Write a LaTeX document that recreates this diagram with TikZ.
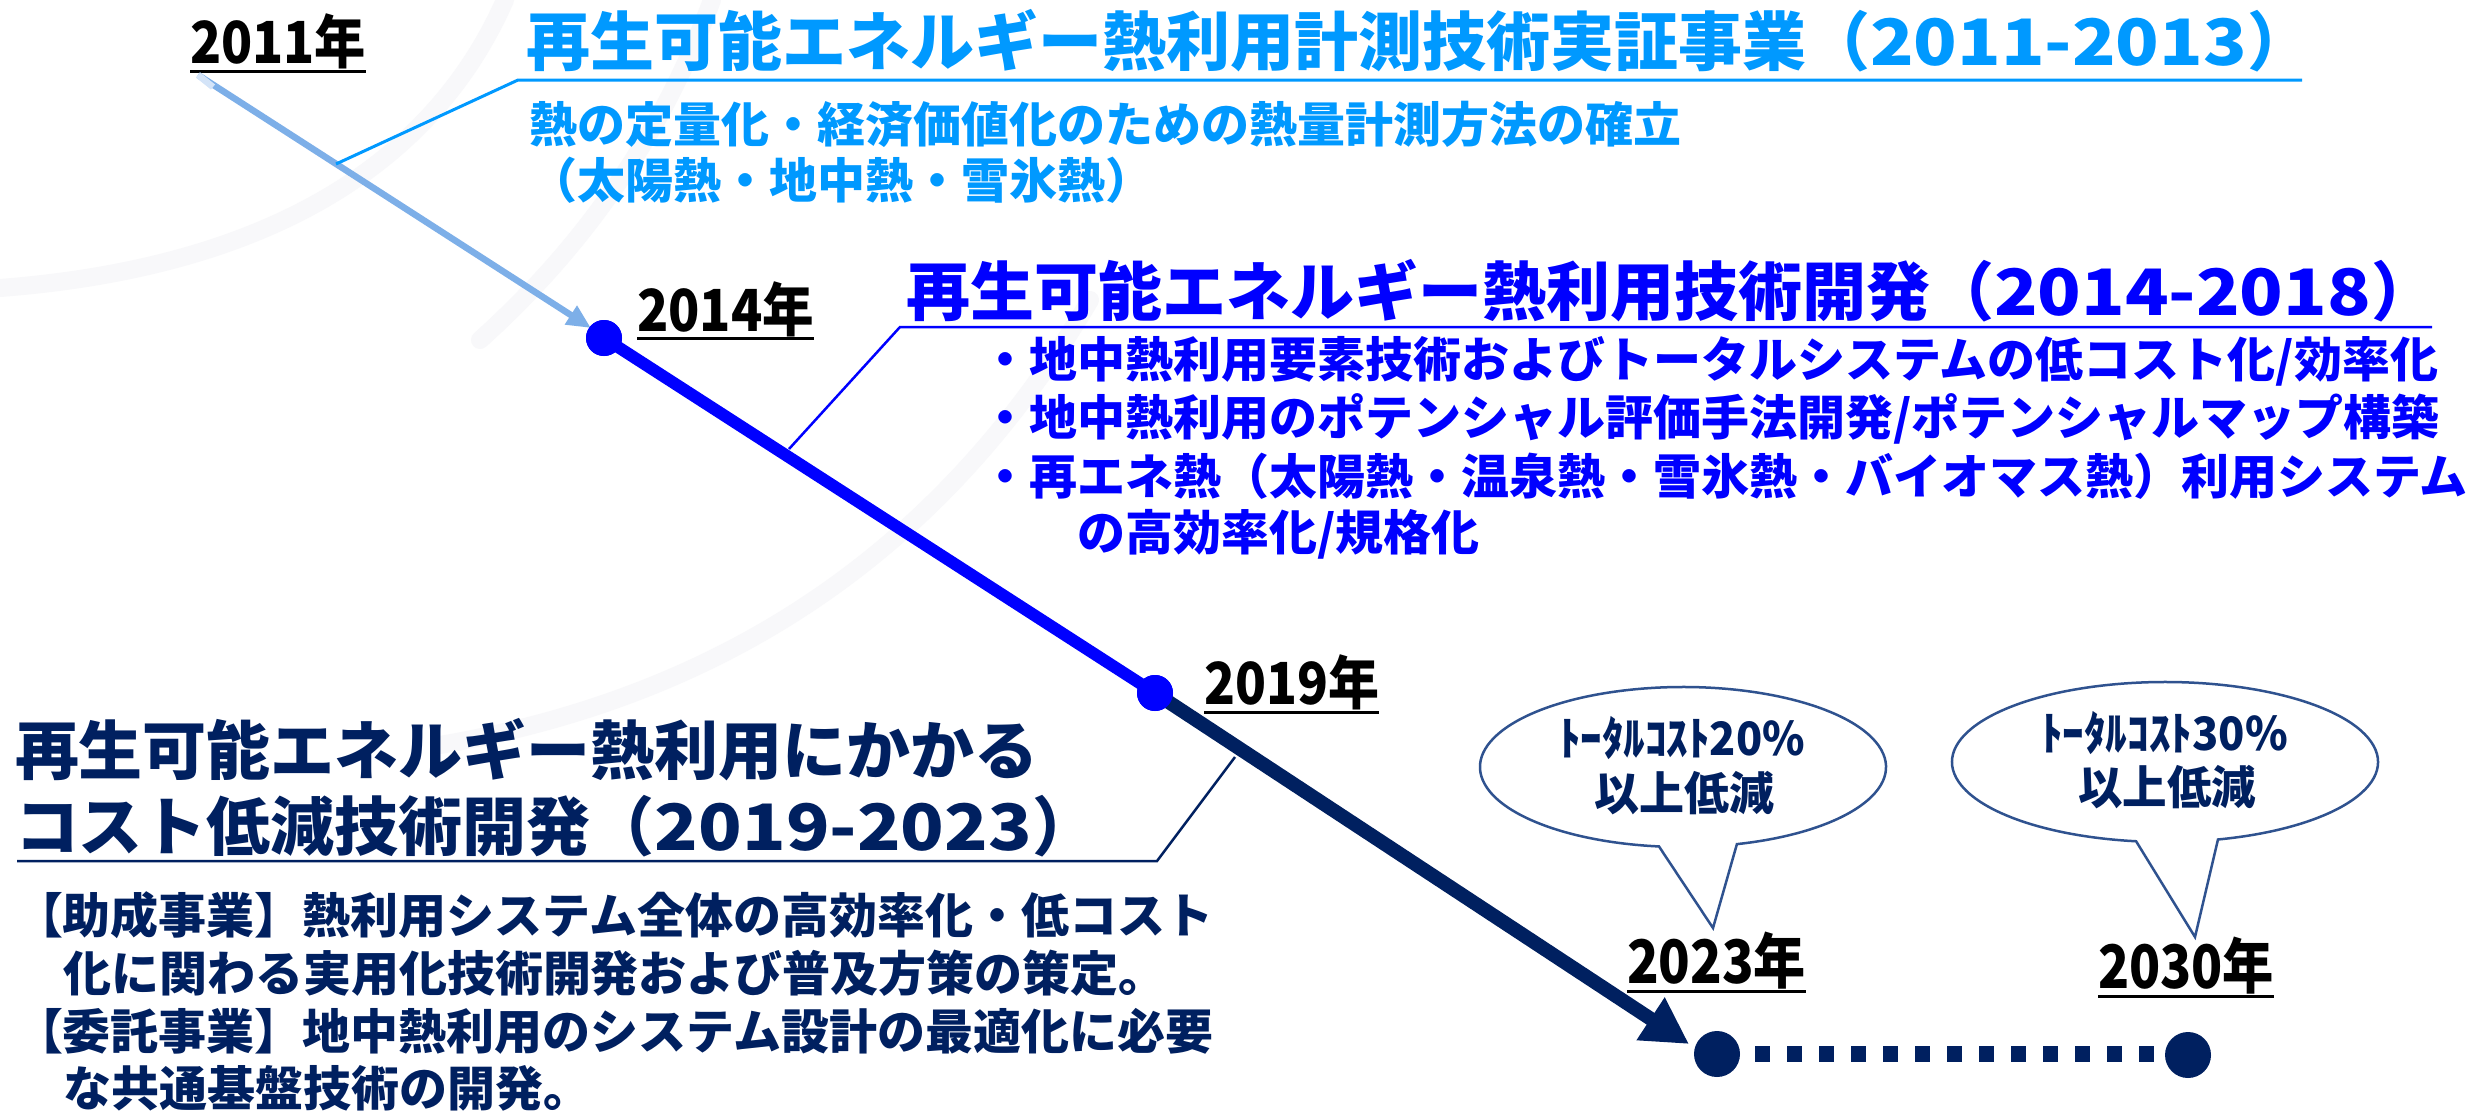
\documentclass[tikz,border=0pt]{standalone}
\usepackage{fontspec}
\usepackage{graphicx}
\setmainfont{Noto Sans CJK JP}
\usetikzlibrary{arrows.meta}
\definecolor{sky}{RGB}{0,153,255}
\definecolor{lightarrow}{RGB}{125,175,232}
\definecolor{lightarrowfade}{RGB}{212,228,248}
\definecolor{pureblue}{RGB}{0,0,255}
\definecolor{navy}{RGB}{0,32,96}
\definecolor{calloutline}{RGB}{47,82,143}
\definecolor{bgarccol}{RGB}{248,248,250}
\newcommand\myfs[1]{\fontsize{#1pt}{#1pt}\selectfont}
\begin{document}
\begin{tikzpicture}[x=1pt,y=-1pt,
  txt/.style={inner sep=0pt, outer sep=0pt, anchor=west},
  yearlbl/.style={txt, text=black, font=\myfs{58}\bfseries},
  uline/.style={black, line width=3pt},
  dot/.style={circle, inner sep=0pt, minimum size=36pt},
  bigdot/.style={circle, inner sep=0pt, minimum size=46pt, fill=navy},
  bgarc/.style={bgarccol, line width=18pt, line cap=round},
  callout/.style={draw=calloutline, line width=2.5pt, fill=white},
  calltxt/.style={inner sep=0pt, text=navy, font=\myfs{46}\bfseries}
]
\useasboundingbox[fill=white] (0,0) rectangle (2474,1111);

% faint background arcs
\draw[bgarc] (505,0) .. controls (430,170) and (260,268) .. (0,288);
\draw[bgarc] (712,0) .. controls (660,140) and (580,250) .. (480,340);
\draw[bgarc] (1090,300) .. controls (960,520) and (760,690) .. (440,745);

% ---- year labels
\node[yearlbl] (y2011) at (190,41.5) {\resizebox{176pt}{\height}{2011年}};
\node[yearlbl] (y2014) at (637,309) {\resizebox{177pt}{\height}{2014年}};
\node[yearlbl] (y2019) at (1204,682.5) {\resizebox{175pt}{\height}{2019年}};
\node[yearlbl, font=\myfs{60}\bfseries] (y2023) at (1627,960.5) {\resizebox{179pt}{\height}{2023年}};
\node[yearlbl, font=\myfs{60}\bfseries] (y2030) at (2098,965.5) {\resizebox{176pt}{\height}{2030年}};
\foreach \n in {y2011,y2014,y2019,y2023,y2030}
  \draw[uline] ([yshift=-2pt]\n.south west) -- ([yshift=-2pt]\n.south east);

% ---- timeline dots and coordinates
\coordinate (a11s) at (198,75);
\coordinate (a11f) at (213,87);
\coordinate (a11t) at (591,328);
\node[dot, fill=pureblue] (d2014) at (604,338) {};
\node[dot, fill=pureblue] (d2019) at (1155,693) {};
\coordinate (a23) at (1689,1044);
\coordinate (dl1) at (1755,1054);
\coordinate (dl2) at (2154,1054);

% 2011 -> 2014 light arrow
\draw[lightarrow, line width=6.5pt, -{Triangle[length=24pt 0 0, width=21pt 0 0]}] (a11s) -- (a11t);
\draw[lightarrowfade, line width=6.5pt] (a11s) -- (a11f);

% 2014 -> 2019 blue line
\draw[pureblue, line width=12pt] (d2014.center) -- (d2019.center);
% 2019 -> 2023 navy arrow
\draw[navy, line width=14pt, -{Triangle[length=46pt 0 0, width=48pt 0 0]}] (d2019.center) -- (a23);
\node[dot, fill=pureblue] at (d2014) {};
\node[dot, fill=pureblue] at (d2019) {};

% 2023 .. 2030
\draw[navy, line width=16pt, dash pattern=on 15pt off 17pt] (dl1) -- (dl2);
\node[bigdot] (d2023) at (1717,1054) {};
\node[bigdot] (d2030) at (2188,1055) {};

% ---- block 1 (2011-2013)
\node[txt, font=\myfs{64}\bfseries, text=sky] (t1) at (526,40.5)
  {再生可能エネルギー熱利用計測技術実証事業（\resizebox{377pt}{\height}{2011-2013}）};
\node[txt, font=\myfs{48}\bfseries, text=sky] (s1a) at (529,124)
  {熱の定量化・経済価値化のための熱量計測方法の確立};
\node[txt, font=\myfs{48}\bfseries, text=sky] (s1b) at (529,180.5)
  {（太陽熱・地中熱・雪氷熱）};
\coordinate (t1ul) at (518,80);
\coordinate (t1ur) at (2302,80);
\coordinate (t1c) at (336,164);
\draw[sky, line width=3pt] (t1ur) -- (t1ul) -- (t1c);

% ---- block 2 (2014-2018)
\node[txt, font=\myfs{64}\bfseries, text=pureblue] (t2) at (906,290.5)
  {再生可能エネルギー熱利用技術開発（\resizebox{377pt}{\height}{2014-2018}）};
\node[txt, font=\myfs{48}\bfseries, text=pureblue] (b2a) at (981,361)
  {・地中熱利用要素技術およびトータルシステムの低コスト化/効率化};
\node[txt, font=\myfs{48}\bfseries, text=pureblue] (b2b) at (981,418.5)
  {・地中熱利用のポテンシャル評価手法開発/ポテンシャルマップ構築};
\node[txt, font=\myfs{48}\bfseries, text=pureblue] (b2c) at (981,476.5)
  {・再エネ熱（太陽熱・温泉熱・雪氷熱・バイオマス熱）利用システム};
\node[txt, font=\myfs{48}\bfseries, text=pureblue] (b2d) at (1077,534)
  {の高効率化/規格化};
\coordinate (t2ul) at (900,327);
\coordinate (t2ur) at (2432,327);
\coordinate (t2c) at (789,449);
\draw[pureblue, line width=2.5pt] (t2ur) -- (t2ul) -- (t2c);

% ---- block 3 (2019-2023)
\node[txt, font=\myfs{64}\bfseries, text=navy] (t3a) at (15,750)
  {再生可能エネルギー熱利用にかかる};
\node[txt, font=\myfs{64}\bfseries, text=navy] (t3b) at (15,826.5)
  {コスト低減技術開発（\resizebox{377pt}{\height}{2019-2023}）};
\node[txt, font=\myfs{48}\bfseries, text=navy] (b3a) at (15,915)
  {【助成事業】熱利用システム全体の高効率化・低コスト};
\node[txt, font=\myfs{48}\bfseries, text=navy] (b3b) at (63,973.5)
  {化に関わる実用化技術開発および普及方策の策定。};
\node[txt, font=\myfs{48}\bfseries, text=navy] (b3c) at (15,1031.5)
  {【委託事業】地中熱利用のシステム設計の最適化に必要};
\node[txt, font=\myfs{48}\bfseries, text=navy] (b3d) at (63,1088.5)
  {な共通基盤技術の開発。};
\coordinate (t3ul) at (17,861);
\coordinate (t3ur) at (1157,861);
\coordinate (t3c) at (1235,757);
\draw[navy, line width=2.5pt] (t3ul) -- (t3ur) -- (t3c);

% ---- callouts
\coordinate (c1) at (1683,767);
\path (c1) ++(74.6:203 and 80) coordinate (c1r);
\coordinate (c1t) at (1713,928);
\draw[callout] (c1t) -- (c1r) arc[start angle=74.6, end angle=-263.2, x radius=203, y radius=80] -- cycle;
\node[calltxt] (c1a) at (1682,738) {\resizebox{246pt}{\height}{ﾄｰﾀﾙｺｽﾄ20\%}};
\node[calltxt] (c1b) at (1684,793.5) {\resizebox{180pt}{\height}{以上低減}};

\coordinate (c2) at (2165,762);
\path (c2) ++(75.6:213 and 80) coordinate (c2r);
\coordinate (c2t) at (2195,937);
\draw[callout] (c2t) -- (c2r) arc[start angle=75.6, end angle=-262.2, x radius=213, y radius=80] -- cycle;
\node[calltxt] (c2a) at (2164.5,733.5) {\resizebox{247pt}{\height}{ﾄｰﾀﾙｺｽﾄ30\%}};
\node[calltxt] (c2b) at (2167,787.5) {\resizebox{178pt}{\height}{以上低減}};
\end{tikzpicture}
\end{document}
